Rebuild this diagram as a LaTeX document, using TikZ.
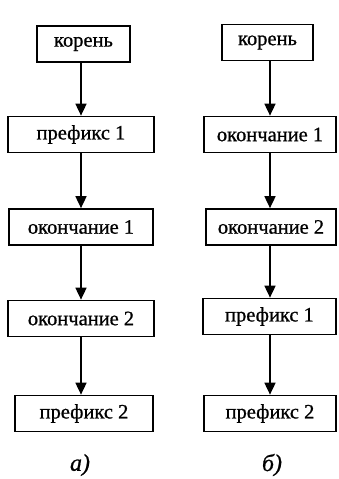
\documentclass[tikz,border=0pt]{standalone}
\usepackage{fontspec}
\setmainfont{Liberation Serif}
\newfontfamily\scanfont{Liberation Serif}[FakeBold=0.8]
\usetikzlibrary{arrows.meta}

\begin{document}
\begin{tikzpicture}[x=1pt,y=-1pt,font=\scanfont\fontsize{20.5}{24}\selectfont,
  box/.style={draw,line width=1.7pt,minimum height=36pt,inner sep=0pt},
  arr/.style={line width=1.7pt,-{Triangle[length=12pt,width=11pt]}}]
\useasboundingbox (0,0) rectangle (338,479);
% variant a)
\node[box,minimum width=93pt] (ka) at (83.5,44) {корень};
\node[box,minimum width=146pt] (pa1) at (81,134.5) {префикс 1};
\node[box,minimum width=144pt] (oa1) at (81,227) {окончание 1};
\node[box,minimum width=146pt] (oa2) at (81,318.5) {окончание 2};
\node[box,minimum width=138pt] (pa2) at (84,413.5) {префикс 2};
\draw[arr] (ka.south -| pa1) -- (pa1);
\draw[arr] (pa1) -- (pa1 |- oa1.north);
\draw[arr] (oa1) -- (oa1 |- oa2.north);
\draw[arr] (oa2) -- (oa2 |- pa2.north);
\node[font=\scanfont\fontsize{24}{28}\selectfont\itshape] (la) at (80,465) {а)};
% variant b)
\node[box,minimum width=91pt] (kb) at (267.5,42.5) {корень};
\node[box,minimum width=132pt] (ob1) at (270,134.5) {окончание 1};
\node[box,minimum width=130pt] (ob2) at (271,227) {окончание 2};
\node[box,minimum width=133pt] (pb1) at (269.5,316.5) {префикс 1};
\node[box,minimum width=132pt] (pb2) at (270,413.5) {префикс 2};
\draw[arr] (kb.south -| ob1) -- (ob1);
\draw[arr] (ob1) -- (ob1 |- ob2.north);
\draw[arr] (ob2.south -| ob1) -- (ob1 |- pb1.north);
\draw[arr] (pb1.south -| ob1) -- (ob1 |- pb2.north);
\node[font=\scanfont\fontsize{24}{28}\selectfont\itshape] (lb) at (272,465) {б)};
\end{tikzpicture}
\end{document}
